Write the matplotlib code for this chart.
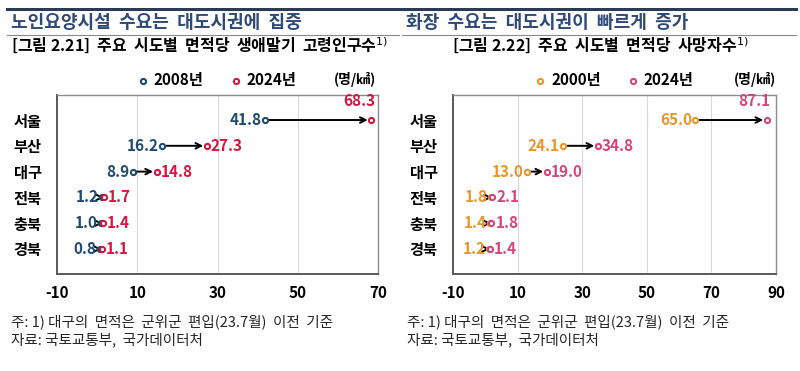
import matplotlib
matplotlib.use("Agg")
import matplotlib.pyplot as plt
from matplotlib.lines import Line2D

plt.rcParams["font.family"] = ["Noto Sans CJK KR", "DejaVu Sans"]
plt.rcParams["axes.unicode_minus"] = False

# data
regions = ["서울", "부산", "대구", "전북", "충북", "경북"]

elder_2008 = [41.8, 16.2, 8.9, 1.2, 1.0, 0.8]
elder_2024 = [68.3, 27.3, 14.8, 1.7, 1.4, 1.1]

death_2000 = [65.0, 24.1, 13.0, 1.8, 1.4, 1.2]
death_2024 = [87.1, 34.8, 19.0, 2.1, 1.8, 1.4]

left_ticks = [-10, 10, 30, 50, 70]
right_ticks = [-10, 10, 30, 50, 70, 90]

W, H = 800, 371
NAVY = "#1F4A72"
RED = "#D1173F"
ORANGE = "#E8962A"
PINK = "#D2467C"


def fx(px):
    return px / W


def fy(py):
    return 1 - py / H


def draw_panel(ax, start, end, ticks, c0, c1, lab0, lab1):
    ys = list(range(len(regions)))
    for i in ys:
        ax.annotate("", xy=(end[i], i), xytext=(start[i], i),
                    arrowprops=dict(arrowstyle="->", color="black", lw=1.4,
                                    shrinkA=2.5, shrinkB=2.5), zorder=2)
    ax.scatter(start, ys, s=14, facecolor="white", edgecolor=c0, lw=1.5, zorder=3, label=lab0)
    ax.scatter(end, ys, s=14, facecolor="white", edgecolor=c1, lw=1.5, zorder=3, label=lab1)

    for i in ys:
        ax.annotate(f"{start[i]:.1f}", (start[i], i), xytext=(-2.5, 0), textcoords="offset points",
                    ha="right", va="center", color=c0, fontsize=11, fontweight="semibold")
        if i == 0:
            ax.annotate(f"{end[i]:.1f}", (end[i], i), xytext=(3, 8), textcoords="offset points",
                        ha="right", va="bottom", color=c1, fontsize=11, fontweight="semibold")
        else:
            ax.annotate(f"{end[i]:.1f}", (end[i], i), xytext=(3, 0), textcoords="offset points",
                        ha="left", va="center", color=c1, fontsize=11, fontweight="semibold")

    ax.set_xlim(ticks[0], ticks[-1])
    ax.set_ylim(5.97, -0.97)
    ax.set_xticks(ticks)
    ax.set_xticklabels([str(t) for t in ticks], fontsize=11, fontweight="bold")
    ax.set_yticks(ys)
    ax.set_yticklabels(regions, fontsize=11, fontweight="bold")
    ax.tick_params(length=0)
    ax.tick_params(axis="y", pad=11)
    ax.tick_params(axis="x", pad=8)
    ax.grid(axis="x", color="#d9d9d9", lw=0.8)
    ax.set_axisbelow(True)
    for side in ["top", "right"]:
        ax.spines[side].set_color("#8c8c8c")
        ax.spines[side].set_linewidth(1.0)
    for side in ["left", "bottom"]:
        ax.spines[side].set_color("#595959")
        ax.spines[side].set_linewidth(1.4)

    leg = ax.legend(loc="center", bbox_to_anchor=(0.5, 1 + 15 / 179), ncol=2, frameon=False,
                    handlelength=0.6, handletextpad=0.4, columnspacing=1.8, borderaxespad=0,
                    prop=dict(size=11, weight="bold"))
    return leg


fig = plt.figure(figsize=(W / 100, H / 100), dpi=100)

ax1 = fig.add_axes([fx(57), fy(274), fx(378 - 57), (274 - 95) / H])
ax2 = fig.add_axes([fx(453), fy(274), fx(776 - 453), (274 - 95) / H])

draw_panel(ax1, elder_2008, elder_2024, left_ticks, NAVY, RED, "2008년", "2024년")
draw_panel(ax2, death_2000, death_2024, right_ticks, ORANGE, PINK, "2000년", "2024년")

# frame lines
fig.add_artist(Line2D([fx(7), fx(796)], [fy(8.5), fy(8.5)], color="#2B3A55", lw=2.2))
fig.add_artist(Line2D([fx(7), fx(399)], [fy(34.5), fy(34.5)], color="#8a8a8a", lw=0.8))
fig.add_artist(Line2D([fx(402), fx(796)], [fy(34.5), fy(34.5)], color="#8a8a8a", lw=0.8))

# titles
fig.text(fx(11), fy(22), "노인요양시설  수요는  대도시권에  집중", fontsize=13,
         color="#2E4A78", va="center", ha="left", fontweight="semibold")
fig.text(fx(406), fy(22), "화장  수요는  대도시권이  빠르게  증가", fontsize=13,
         color="#2E4A78", va="center", ha="left", fontweight="semibold")
fig.text(fx(11), fy(46), "[그림 2.21]  주요  시도별  면적당  생애말기  고령인구수$^{1)}$", fontsize=11.5,
         color="black", va="center", ha="left", fontweight="bold")
fig.text(fx(600), fy(46), "[그림 2.22]  주요  시도별  면적당  사망자수$^{1)}$", fontsize=11.5,
         color="black", va="center", ha="center", fontweight="bold")

# units
fig.text(fx(376), fy(79), "(명/㎢)", fontsize=10, ha="right", va="center", fontweight="bold")
fig.text(fx(776), fy(79), "(명/㎢)", fontsize=10, ha="right", va="center", fontweight="bold")

# notes
for x0 in (11, 407):
    fig.text(fx(x0), fy(322), "주: 1) 대구의  면적은  군위군  편입(23.7월)  이전  기준", fontsize=10.5,
             color="#262626", va="center", ha="left")
    fig.text(fx(x0), fy(340), "자료: 국토교통부,  국가데이터처", fontsize=10.5,
             color="#262626", va="center", ha="left")

fig.savefig("out.png", dpi=100)
